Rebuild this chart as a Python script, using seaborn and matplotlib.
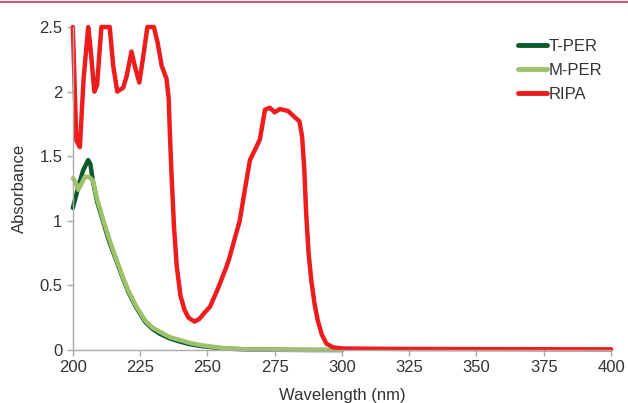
import numpy as np
import pandas as pd
import matplotlib
matplotlib.use("Agg")
import matplotlib.pyplot as plt
import seaborn as sns
from matplotlib.lines import Line2D

# --- data ---
ripa_wl = [200, 201.3, 202.6, 204, 205.7, 206.5, 208, 209, 210.6, 213.7, 215, 216.5, 218.7,
           220, 221.8, 223, 224.7, 226, 227.7, 230.1, 231.5, 233, 234.8, 235.6, 236.2, 236.8,
           237.6, 238.6, 240, 241.5, 243, 245.2, 247, 249, 251, 254, 257, 258, 260, 262, 264, 265.8,
           267.7, 269.5, 271.4, 273.2, 275, 276.9, 280, 282.3, 284.2, 285.2, 286, 286.7, 287.6, 288.6,
           289.8, 291, 292.5, 294.2, 296.7, 300, 310, 325, 350, 375, 400]
ripa_abs = [2.5, 1.62, 1.57, 2.1, 2.5, 2.35, 2.0, 2.05, 2.5, 2.5, 2.2, 2.0, 2.03,
            2.12, 2.31, 2.2, 2.07, 2.25, 2.5, 2.5, 2.38, 2.2, 2.1, 1.95, 1.6, 1.3,
            0.95, 0.65, 0.42, 0.31, 0.25, 0.22, 0.24, 0.29, 0.335, 0.48, 0.64, 0.70, 0.85, 1.0, 1.25, 1.47,
            1.55, 1.63, 1.86, 1.875, 1.84, 1.865, 1.85, 1.805, 1.77, 1.65, 1.4, 1.06, 0.75, 0.54,
            0.36, 0.23, 0.12, 0.05, 0.02, 0.012, 0.01, 0.008, 0.007, 0.006, 0.005]

tper_wl = [200, 202, 203.8, 205.7, 206.5, 207.5, 209, 211.3, 213.5, 216.2, 218.5, 220.6, 223.5,
           226.8, 229.5, 232.4, 236, 239.8, 243.5, 247.2, 252, 257, 263, 270, 280, 290, 300]
tper_abs = [1.10, 1.26, 1.39, 1.47, 1.44, 1.30, 1.15, 0.99, 0.84, 0.69, 0.56, 0.45, 0.33,
            0.22, 0.165, 0.125, 0.09, 0.065, 0.045, 0.032, 0.02, 0.011, 0.006, 0.003, 0.001, 0.0, 0.0]

mper_wl = [200, 201, 202, 203, 204.5, 206, 207.5, 209, 211.3, 213.5, 216.2, 218.5, 220.6, 223.5,
           226.8, 229.5, 232.4, 236, 239.8, 243.5, 247.2, 252, 257, 263, 270, 280, 290, 300]
mper_abs = [1.33, 1.30, 1.24, 1.28, 1.34, 1.34, 1.31, 1.17, 1.006, 0.86, 0.70, 0.57, 0.46, 0.34,
            0.23, 0.175, 0.14, 0.10, 0.077, 0.055, 0.039, 0.025, 0.013, 0.007, 0.004, 0.002, 0.001, 0.0]

series = ["T-PER", "M-PER", "RIPA"]
colors = {"T-PER": "#0a5a2c", "M-PER": "#9ec26a", "RIPA": "#ee1c1c"}

df = pd.concat([
    pd.DataFrame({"Wavelength": tper_wl, "Absorbance": tper_abs, "Sample": "T-PER"}),
    pd.DataFrame({"Wavelength": mper_wl, "Absorbance": mper_abs, "Sample": "M-PER"}),
    pd.DataFrame({"Wavelength": ripa_wl, "Absorbance": ripa_abs, "Sample": "RIPA"}),
], ignore_index=True)

sns.set_style("white")
plt.rcParams['font.family'] = ['Liberation Sans', 'DejaVu Sans']

fig = plt.figure(figsize=(6.28, 4.03), dpi=100)
ax = fig.add_axes([0.116, 0.1315, 0.857, 0.8015])

sns.lineplot(data=df, x="Wavelength", y="Absorbance", hue="Sample", hue_order=series,
             palette=colors, linewidth=3.2, ax=ax, legend=False, sort=False, estimator=None,
             clip_on=False, solid_joinstyle="round", solid_capstyle="round")

ax.set_xlim(200, 400)
ax.set_ylim(0, 2.5)
ax.set_xticks([200, 225, 250, 275, 300, 325, 350, 375, 400])
ax.set_yticks([0, 0.5, 1, 1.5, 2, 2.5])
ax.set_yticklabels(["0", "0.5", "1", "1.5", "2", "2.5"])
ax.tick_params(axis="both", labelsize=12, labelcolor="#333333", length=4, width=1,
               direction="out", left=True, bottom=True, color="#aaaaaa")
ax.set_xlabel("Wavelength (nm)", fontsize=12, color="#333333", labelpad=9)
ax.set_ylabel("Absorbance", fontsize=12, color="#333333", labelpad=9)
for s in ["top", "right"]:
    ax.spines[s].set_visible(False)
for s in ["left", "bottom"]:
    ax.spines[s].set_color("#aaaaaa")
    ax.spines[s].set_linewidth(1)

handles = [Line2D([0], [0], color=colors[s], lw=3.5) for s in series]
leg = ax.legend(handles, series, loc="upper left", bbox_to_anchor=(0.8, 1.01),
                frameon=False, fontsize=12, handlelength=1.7, handletextpad=0.1,
                labelspacing=0.55, labelcolor="#333333")

fig.add_artist(Line2D([0, 1], [0.995, 0.995], color="#d4375a", lw=1.2, transform=fig.transFigure))

fig.savefig("out.png", dpi=100)
